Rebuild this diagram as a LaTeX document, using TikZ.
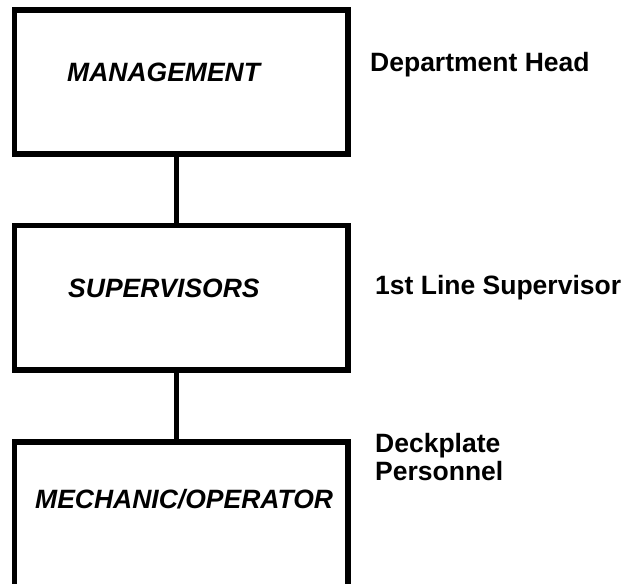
\documentclass[tikz,border=0pt]{standalone}
\usepackage{fontspec}
\setmainfont{Liberation Sans}

\begin{document}
\begin{tikzpicture}[x=1pt, y=-1pt,
    lvl/.style={draw, line width=5.5pt, minimum width=333.5pt, inner sep=0pt},
    boxtext/.style={anchor=base west, inner sep=0pt, font=\fontsize{26.5}{28}\selectfont\bfseries\itshape},
    sidetext/.style={anchor=base west, inner sep=0pt, align=left, font=\fontsize{26.5}{28}\selectfont\bfseries}]
  \useasboundingbox (0,0) rectangle (623,583);
  \clip (0,0) rectangle (623,583);

  % Ebenen
  \node[lvl, minimum height=144pt] (mgmt) at (181.25,82) {};
  \node[lvl, minimum height=144.5pt] (sup) at (181.25,297.75) {};
  \node[lvl, minimum height=150pt] (mech) at (181.25,517) {};

  % Verbindungen
  \draw[line width=5.5pt] ([xshift=-5pt]mgmt.south) -- ([xshift=-5pt]sup.north);
  \draw[line width=5.5pt] ([xshift=-5pt]sup.south) -- ([xshift=-5pt]mech.north);

  % Texte
  \node[boxtext] (mgmtlbl) at (67,81.7) {MANAGEMENT};
  \node[boxtext] (suplbl) at (68,297) {SUPERVISORS};
  \node[boxtext] (mechlbl) at (35,508) {MECHANIC/OPERATOR};

  \node[sidetext] (head) at (370,71.7) {Department Head};
  \node[sidetext] (first) at (375,294) {1st Line Supervisor};
  \node[sidetext] (deck) at (375,480) {Deckplate\\Personnel};
\end{tikzpicture}
\end{document}
